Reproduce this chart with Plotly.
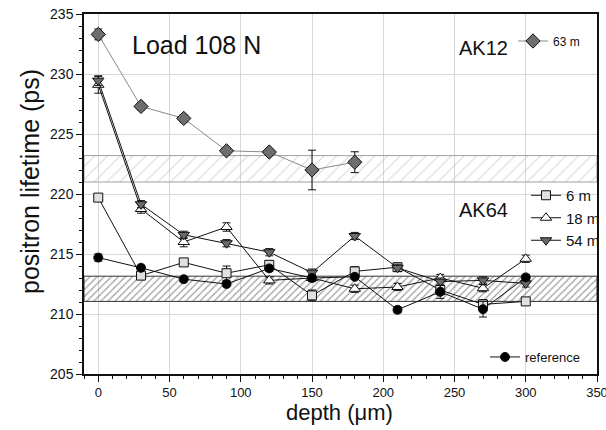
import plotly.graph_objects as go

# ---------------- data ----------------
depth = [0, 30, 60, 90, 120, 150, 180, 210, 240, 270, 300]
depth_63 = [0, 30, 60, 90, 120, 150, 180]

ak12_63m = [233.3, 227.3, 226.3, 223.6, 223.5, 222.0, 222.65]
ak12_63m_err = [0.45, 0.3, 0.3, 0.25, 0.25, 1.65, 0.87]

ak64_6m = [219.7, 213.2, 214.3, 213.4, 214.1, 211.55, 213.55, 213.9, 212.0, 210.8, 211.05]
ak64_6m_err = [0.25, 0.3, 0.25, 0.6, 0.35, 0.45, 0.4, 0.3, 0.4, 0.4, 0.25]

ak64_18m = [229.1, 218.75, 216.0, 217.25, 212.8, 213.0, 212.1, 212.25, 213.0, 212.15, 214.6]
ak64_18m_err = [0.7, 0.35, 0.4, 0.35, 0.3, 0.3, 0.3, 0.3, 0.3, 0.3, 0.3]

ak64_54m = [229.45, 219.15, 216.6, 215.9, 215.15, 213.45, 216.5, 213.85, 212.7, 212.8, 212.55]
ak64_54m_err = [0.4, 0.3, 0.3, 0.3, 0.3, 0.3, 0.3, 0.3, 0.3, 0.3, 0.3]

reference = [214.7, 213.85, 212.9, 212.5, 213.8, 213.0, 213.1, 210.35, 211.85, 210.4, 213.05]
reference_err = [0.3, 0.2, 0.2, 0.2, 0.25, 0.2, 0.2, 0.25, 0.55, 0.65, 0.25]

band_ak12 = [221.0, 223.2]   # bulk lifetime band AK12
band_ak64 = [211.05, 213.15]  # bulk lifetime band AK64

x_range = [-10, 350]
y_range = [205, 235]
x_ticks = [0, 50, 100, 150, 200, 250, 300, 350]
y_ticks = [205, 210, 215, 220, 225, 230, 235]

FONT = "Arial, Liberation Sans, sans-serif"

fig = go.Figure()


def band(lims, fg, edge, size, solidity):
    lo, hi = lims
    fig.add_trace(go.Scatter(
        x=[x_range[0], x_range[1], x_range[1], x_range[0], x_range[0]],
        y=[lo, lo, hi, hi, lo],
        mode="lines", fill="toself",
        fillcolor="rgba(255,255,255,0)",
        fillpattern=dict(shape="/", fgcolor=fg, bgcolor="rgba(255,255,255,0)",
                         size=size, solidity=solidity),
        line=dict(color=edge, width=1),
        hoverinfo="skip", showlegend=False))


band(band_ak12, "#b0b0b0", "#a0a0a0", 9, 0.12)
band(band_ak64, "#404040", "#333333", 5, 0.25)


def series(x, y, err, name, symbol, fill, linecolor, legend, size=9, msize_line=1):
    fig.add_trace(go.Scatter(
        x=x, y=y, name=name, mode="lines+markers",
        line=dict(color=linecolor, width=1),
        marker=dict(symbol=symbol, size=size, color=fill,
                    line=dict(color="#111111", width=msize_line)),
        error_y=dict(type="data", array=err, visible=True,
                     color="#111111", thickness=1, width=4),
        legend=legend))


series(depth_63, ak12_63m, ak12_63m_err, "63 m", "diamond", "#6e6e6e", "#8a8a8a", "legend", size=11)
series(depth, ak64_6m, ak64_6m_err, "6 m", "square", "#e0e0e0", "#111111", "legend2", size=9)
series(depth, ak64_18m, ak64_18m_err, "18 m", "triangle-up", "#ffffff", "#111111", "legend2", size=10)
series(depth, ak64_54m, ak64_54m_err, "54 m", "triangle-down", "#6a6a6a", "#111111", "legend2", size=10)
series(depth, reference, reference_err, "reference", "circle", "#000000", "#111111", "legend3", size=9)

axis_common = dict(
    showline=True, linecolor="#111111", linewidth=1.5, mirror=True,
    showgrid=True, gridcolor="#d8d8d8", gridwidth=1,
    ticks="outside", ticklen=6, tickcolor="#111111", tickwidth=1,
    zeroline=False, ticklabeloverflow="allow",
    tickfont=dict(family=FONT, size=13, color="#111111"),
)

fig.update_xaxes(range=x_range, tickvals=x_ticks, **axis_common,
                 minor=dict(ticks="outside", dtick=10, tick0=0, ticklen=3,
                            tickcolor="#111111", showgrid=False))
fig.update_yaxes(range=y_range, tickvals=y_ticks, **axis_common,
                 minor=dict(ticks="outside", dtick=1, tick0=205, ticklen=3,
                            tickcolor="#111111", showgrid=False))
fig.update_yaxes(tickfont=dict(size=14))

L, R, T, B = 84, 9, 14, 56
W, H = 606, 430
pw, ph = W - L - R, H - T - B


def px(xp):
    return (xp - L) / pw


def py(yp):
    return 1 - (yp - T) / ph


leg_common = dict(bgcolor="rgba(0,0,0,0)", borderwidth=0, xanchor="left",
                  yanchor="middle", itemwidth=30, tracegroupgap=0)

fig.update_layout(
    width=W, height=H,
    margin=dict(l=L, r=R, t=T, b=B, autoexpand=False),
    plot_bgcolor="white", paper_bgcolor="white",
    font=dict(family=FONT, color="#111111"),
    legend=dict(x=px(513), y=py(41), font=dict(size=12, family=FONT), **leg_common),
    legend2=dict(x=px(526), y=py(218), font=dict(size=15, family=FONT), **leg_common),
    legend3=dict(x=px(485), y=py(357), font=dict(size=13, family=FONT), **leg_common),
    annotations=[
        dict(text="Load 108 N", xref="paper", yref="paper", x=px(130), y=py(45),
             xanchor="left", yanchor="middle", showarrow=False,
             font=dict(size=25, family=FONT, color="#111111")),
        dict(text="AK12", xref="paper", yref="paper", x=px(457), y=py(48),
             xanchor="left", yanchor="middle", showarrow=False,
             font=dict(size=20, family=FONT, color="#111111")),
        dict(text="AK64", xref="paper", yref="paper", x=px(457), y=py(210),
             xanchor="left", yanchor="middle", showarrow=False,
             font=dict(size=20, family=FONT, color="#111111")),
        dict(text="positron lifetime (ps)", xref="paper", yref="paper", x=px(30), y=py(182),
             xanchor="center", yanchor="middle", textangle=-90, showarrow=False,
             font=dict(size=25, family=FONT, color="#111111")),
        dict(text="depth (μm)", xref="paper", yref="paper", x=px(339), y=py(412),
             xanchor="center", yanchor="middle", showarrow=False,
             font=dict(size=22, family=FONT, color="#111111")),
    ],
)

fig.write_html("out.html",
               config={"displayModeBar": False},
               post_script="document.body.style.margin='0';document.body.style.overflow='hidden';")
